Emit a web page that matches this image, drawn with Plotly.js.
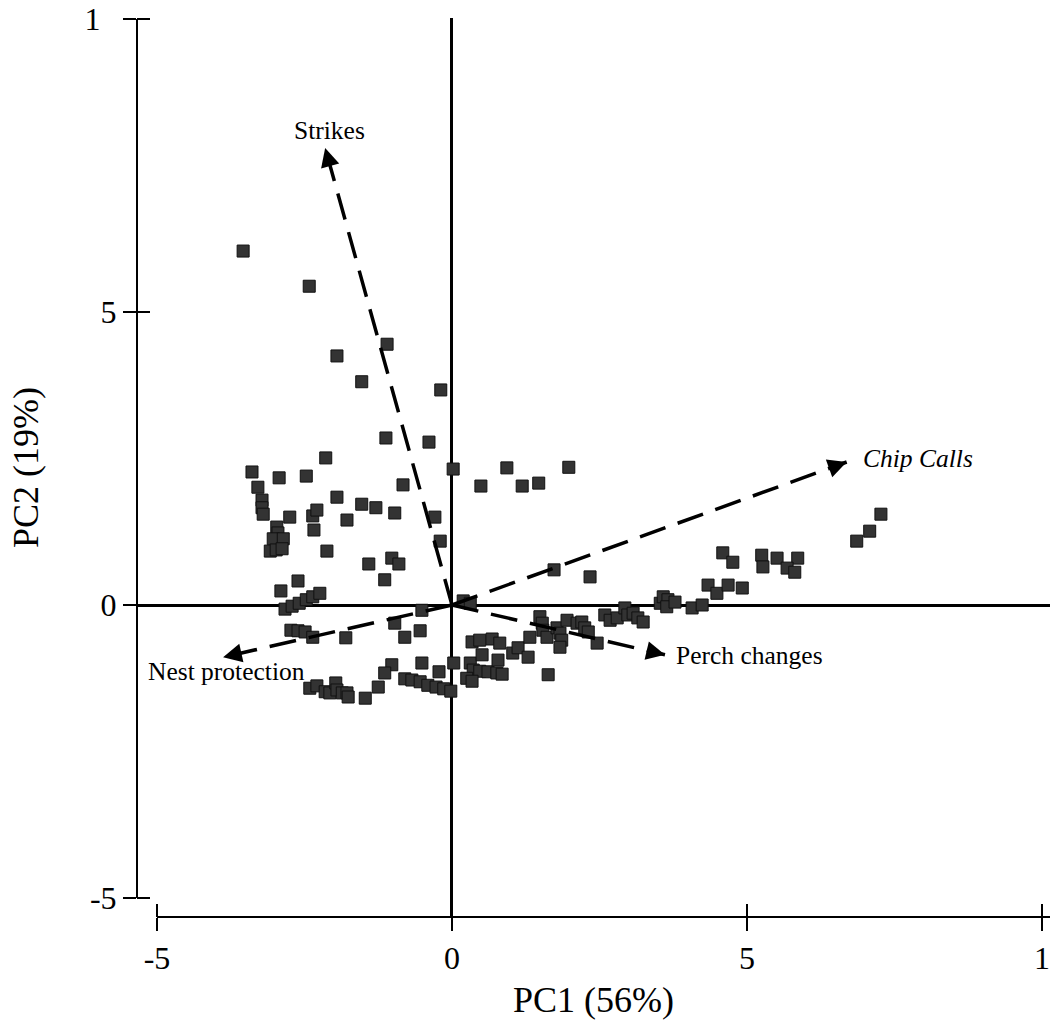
<!DOCTYPE html>
<html>
<head>
<meta charset="utf-8">
<script src="https://cdn.plot.ly/plotly-3.0.1.min.js"></script>
<style>html,body{margin:0;padding:0;background:#fff;}#chart{width:1050px;height:1020px;}</style>
</head>
<body>
<div id="chart"></div>
<script>
// PC scores (observations)
const scoresX = [
-3.54,-2.42,-1.10,-1.95,-1.53,-0.19,-1.12,-0.39,0.02,-2.14,
-3.39,-2.93,-2.47,-3.29,-0.83,-1.95,-3.22,-3.22,-3.20,-1.53,
-1.29,-0.97,-2.75,-2.36,-2.29,-1.78,-0.29,-2.97,-2.95,-3.03,
-2.86,-3.08,-2.98,-2.88,-2.34,-2.12,-1.41,-1.02,-0.90,-1.14,
-0.20,-2.61,-2.90,-2.83,-2.71,-2.59,-2.47,-2.36,-2.24,-0.51,
-0.97,-2.73,-2.61,-2.49,-2.36,-1.80,-0.80,-0.54,-1.02,-1.14,
-0.51,-0.22,0.03,-1.25,-2.41,-2.29,-2.15,-2.07,-1.97,-1.95,
-1.86,-1.78,-1.76,-1.47,-0.80,-0.68,-0.54,-0.41,-0.27,-0.14,
-0.02,0.31,0.36,0.47,0.61,0.76,0.85,0.25,0.34,0.34,
0.47,0.68,0.81,0.51,0.78,1.03,1.12,1.29,1.32,1.49,
1.53,1.54,1.61,1.78,1.83,1.86,1.83,1.95,2.12,2.20,
2.25,2.31,2.46,1.63,2.59,2.68,2.80,2.93,2.98,3.07,
3.15,3.24,3.53,3.58,3.66,3.64,3.78,4.07,4.24,4.34,
4.49,4.68,4.92,4.59,4.76,5.25,5.51,5.86,5.27,5.68,
5.81,6.86,7.08,7.27,1.73,2.34,0.93,1.98,0.49,1.19,
1.47,0.19,0.31
];
const scoresY = [
6.04,5.44,4.45,4.25,3.81,3.67,2.85,2.78,2.32,2.51,
2.27,2.17,2.20,2.01,2.05,1.84,1.79,1.66,1.55,1.72,
1.66,1.57,1.50,1.52,1.62,1.45,1.50,1.33,1.23,1.13,
1.13,0.92,0.94,0.96,1.28,0.92,0.70,0.80,0.70,0.43,
1.09,0.41,0.24,-0.07,-0.02,0.03,0.09,0.14,0.20,-0.09,
-0.31,-0.43,-0.44,-0.46,-0.55,-0.56,-0.55,-0.44,-1.02,-1.16,
-0.99,-1.14,-0.99,-1.40,-1.42,-1.38,-1.48,-1.50,-1.33,-1.45,
-1.50,-1.50,-1.57,-1.59,-1.26,-1.28,-1.31,-1.37,-1.40,-1.43,
-1.47,-0.99,-1.11,-1.13,-1.14,-1.16,-1.18,-1.25,-1.30,-0.63,
-0.60,-0.58,-0.65,-0.85,-0.94,-0.82,-0.73,-0.89,-0.55,-0.20,
-0.31,-0.43,-0.55,-0.39,-0.48,-0.60,-0.72,-0.26,-0.31,-0.29,
-0.39,-0.46,-0.65,-1.19,-0.17,-0.26,-0.22,-0.05,-0.17,-0.14,
-0.22,-0.29,0.03,0.14,0.09,-0.03,0.05,-0.05,0.00,0.34,
0.20,0.34,0.29,0.89,0.73,0.85,0.80,0.80,0.65,0.63,
0.56,1.09,1.26,1.55,0.60,0.48,2.34,2.35,2.03,2.03,
2.08,0.07,0.03
];

// Variable loadings (arrow tips)
const varNames = ["Strikes", "<i>Chip Calls</i>", "Nest protection", "Perch changes"];
const loadX = [-2.15, 6.69, -3.88, 3.61];
const loadY = [7.80, 2.44, -0.89, -0.85];

// Axis ticks
const tickVals = [-5, 0, 5, 10];
const tickTextX = ["-5", "0", "5", "1"];
const tickTextY = ["-5", "0", "5", "1\u2007"];

const xRange = [-5.339, 10.136];
const yRange = [-5.324, 10.017];

const FONT = "'Liberation Serif', 'Times New Roman', Times, serif";

const traces = [];
traces.push({
  type: 'scatter', mode: 'markers', x: scoresX, y: scoresY,
  marker: {symbol: 'square', size: 12, color: '#333333', line: {color: '#111111', width: 1}},
  hoverinfo: 'skip', showlegend: false
});
for (let i = 0; i < varNames.length; i++) {
  traces.push({
    type: 'scatter', mode: 'lines',
    x: [0, loadX[i]], y: [0, loadY[i]],
    line: {color: '#000', width: 3.5, dash: '27px,13px'},
    hoverinfo: 'skip', showlegend: false
  });
}

// approximate pixel scale, used only to give each arrowhead a short solid stem
const pxPerX = 59, pxPerY = 58.6, stemPx = 12;
const headAnnotations = varNames.map((n, i) => {
  const lenPx = Math.hypot(loadX[i] * pxPerX, loadY[i] * pxPerY);
  const f = 1 - stemPx / lenPx;
  return {
    x: loadX[i], y: loadY[i], xref: 'x', yref: 'y',
    ax: loadX[i] * f, ay: loadY[i] * f, axref: 'x', ayref: 'y',
    text: '', showarrow: true, arrowhead: 2, arrowsize: 1.25, arrowwidth: 3,
    arrowcolor: '#000', standoff: 0, startstandoff: 0
  };
});

// label placement per arrow (style only)
const labelStyle = [
  {xanchor: 'center', yanchor: 'bottom', xshift: 4, yshift: 1},
  {xanchor: 'left', yanchor: 'middle', xshift: 14, yshift: 4},
  {xanchor: 'center', yanchor: 'top', xshift: 3, yshift: 2},
  {xanchor: 'left', yanchor: 'middle', xshift: 9, yshift: -1}
];
const labelAnnotations = varNames.map((n, i) => Object.assign({
  x: loadX[i], y: loadY[i], xref: 'x', yref: 'y', text: n, showarrow: false,
  font: {family: FONT, size: 25.5, color: '#000'}
}, labelStyle[i]));

const shapes = [];
// x axis line starting at first tick
shapes.push({type: 'line', xref: 'x', yref: 'paper', x0: tickVals[0], x1: xRange[1], y0: 0, y1: 0, line: {color: '#000', width: 2}});
// y axis line from first to last tick
shapes.push({type: 'line', xref: 'paper', yref: 'y', x0: 0, x1: 0, y0: tickVals[0], y1: tickVals[tickVals.length - 1], line: {color: '#000', width: 2}});
// inner halves of the crossing ticks
tickVals.forEach(v => {
  shapes.push({type: 'line', xref: 'x', yref: 'paper', ysizemode: 'pixel', yanchor: 0, x0: v, x1: v, y0: 0, y1: 13, line: {color: '#000', width: 2}});
  shapes.push({type: 'line', xref: 'paper', yref: 'y', xsizemode: 'pixel', xanchor: 0, x0: 0, x1: 13, y0: v, y1: v, line: {color: '#000', width: 2}});
});

const layout = {
  width: 1050, height: 1020,
  margin: {l: 137, r: 0, t: 18, b: 103, pad: 0},
  paper_bgcolor: '#fff', plot_bgcolor: '#fff',
  showlegend: false,
  font: {family: FONT, color: '#000'},
  xaxis: {
    range: xRange, tickvals: tickVals, ticktext: tickTextX,
    ticks: 'outside', ticklen: 13, tickwidth: 2, tickcolor: '#000',
    showline: false, showgrid: false,
    zeroline: true, zerolinecolor: '#000', zerolinewidth: 3,
    tickfont: {family: FONT, size: 32, color: '#000'},
    title: {text: 'PC1 (56%)', font: {family: FONT, size: 36, color: '#000'}, standoff: 22}
  },
  yaxis: {
    range: yRange, tickvals: tickVals, ticktext: tickTextY,
    ticks: 'outside', ticklen: 13, tickwidth: 2, tickcolor: '#000',
    showline: false, showgrid: false,
    zeroline: true, zerolinecolor: '#000', zerolinewidth: 3,
    tickfont: {family: FONT, size: 32, color: '#000'},
    title: {text: 'PC2 (19%)', font: {family: FONT, size: 36, color: '#000'}, standoff: 34}
  },
  shapes: shapes,
  annotations: headAnnotations.concat(labelAnnotations)
};

Plotly.newPlot('chart', traces, layout, {staticPlot: true, displayModeBar: false});
</script>
</body>
</html>
